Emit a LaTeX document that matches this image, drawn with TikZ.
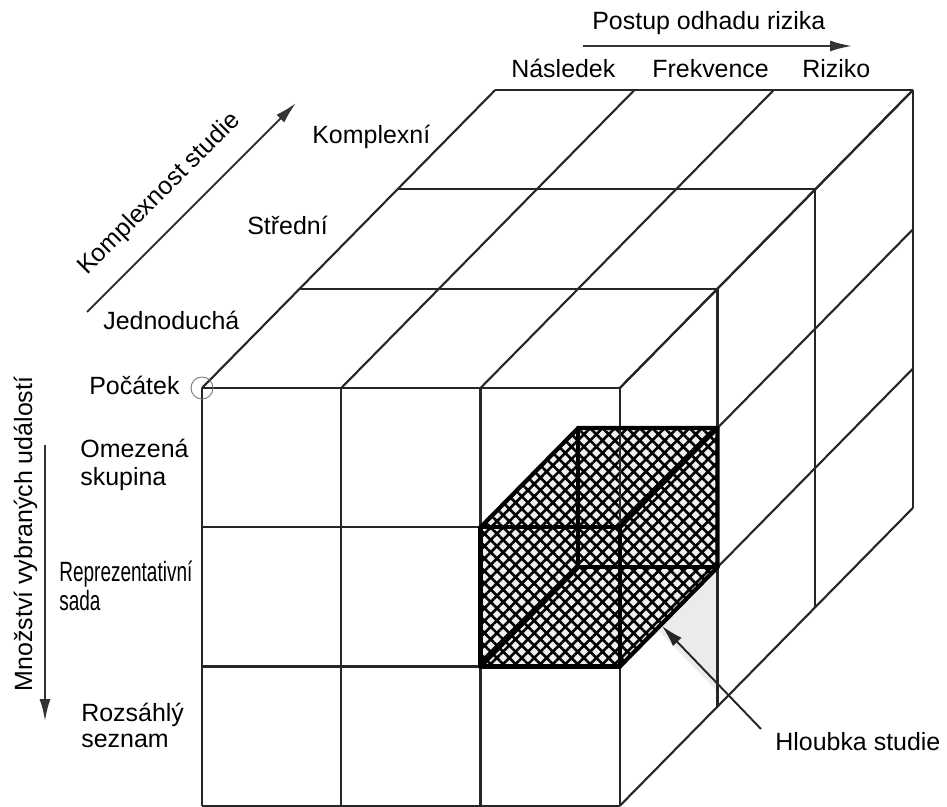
\documentclass[tikz,border=0pt]{standalone}
\usepackage{fontspec}
\setmainfont{Liberation Sans}
\newfontfamily\narrowsans[FakeStretch=0.68]{Liberation Sans}
\usetikzlibrary{arrows.meta,patterns.meta}
\begin{document}
\begin{tikzpicture}[x=0.02cm,y=-0.02cm,
  lbl/.style={font=\fontsize{14.2}{17}\selectfont, inner sep=0pt, anchor=base west},
  narrowlbl/.style={font=\narrowsans\fontsize{15.9}{17}\selectfont, inner sep=0pt, anchor=base west},
  gridline/.style={line width=1.2pt, draw=black!85},
  boldedge/.style={line width=2.4pt, draw=black, line join=round, line cap=round},
  axisarrow/.style={line width=1.2pt, draw=black!80, -{Latex[length=0.44cm,width=0.22cm]}},
  pointer/.style={line width=1.1pt, draw=black!85, -{Latex[length=0.44cm,width=0.24cm]}},
]
\useasboundingbox (0,0) rectangle (947,807);
\fill[white] (0,0) rectangle (947,807);

\coordinate (O) at (202,388);

% shadow triangle
\fill[black!8] (718,568) -- (718,692) -- (654,626) -- cycle;

\begin{scope}[shift={(O)}, x={(2.786cm,0cm)}, y={(1.954cm,1.986cm)}, z={(0cm,-2.786cm)}]
  % hatched cube faces
  \fill[black!6] (2,0,1) -- (2,1,1) -- (3,1,1) -- (3,1,2) -- (3,0,2) -- (2,0,2) -- cycle;
  \fill[pattern={Hatch[angle=45,distance=5pt,line width=1.5pt]}, pattern color=black]
    (2,0,1) -- (2,1,1) -- (3,1,1) -- (3,1,2) -- (3,0,2) -- (2,0,2) -- cycle;
  % front face grid
  \foreach \i in {0,...,3} \draw[gridline] (\i,0,0) -- (\i,0,3);
  \foreach \k in {0,...,3} \draw[gridline] (0,0,\k) -- (3,0,\k);
  % top face grid
  \foreach \i in {0,...,3} \draw[gridline] (\i,0,0) -- (\i,3,0);
  \foreach \j in {0,...,3} \draw[gridline] (0,\j,0) -- (3,\j,0);
  % right face grid
  \foreach \j in {0,...,3} \draw[gridline] (3,\j,0) -- (3,\j,3);
  \foreach \k in {0,...,3} \draw[gridline] (3,0,\k) -- (3,3,\k);
  % hatched cube edges
  \draw[boldedge] (2,0,1) -- (3,0,1) -- (3,0,2) -- (2,0,2) -- cycle;
  \draw[boldedge] (2,0,1) -- (2,1,1) -- (3,1,1) -- (3,0,1);
  \draw[boldedge] (3,1,1) -- (3,1,2) -- (3,0,2);
  \draw[boldedge] (2,1,1) -- (2,1,2) -- (3,1,2);
  \draw[boldedge] (2,1,2) -- (2,0,2);
\end{scope}

% origin marker
\draw[black!55, line width=0.5pt] (O) circle[radius=11];

% top axis
\node[lbl] (postup) at (592,30) {Postup odhadu rizika};
\coordinate (pa) at (583,46);
\coordinate (pb) at (852,46);
\draw[axisarrow] (pa) -- (pb);
\node[lbl] (nasledek) at (511,78) {Následek};
\node[lbl] (frekvence) at (652,78) {Frekvence};
\node[lbl] (riziko) at (802,78) {Riziko};

% depth axis
\coordinate (ka) at (87,312);
\coordinate (kb) at (296,103);
\draw[axisarrow] (ka) -- (kb);
\node[lbl, rotate=45, anchor=base] (komplexnost) at (164,199) {Komplexnost studie};
\node[lbl] (komplexni) at (312,144) {Komplexní};
\node[lbl] (stredni) at (247,235) {Střední};
\node[lbl] (jednoducha) at (103,330) {Jednoduchá};
\node[lbl] (pocatek) at (89,395) {Počátek};

% vertical axis
\coordinate (ma) at (45,445);
\coordinate (mb) at (45,721);
\draw[axisarrow] (ma) -- (mb);
\node[lbl, rotate=90, anchor=base] (mnozstvi) at (32,534) {Množství vybraných událostí};
\node[lbl] (omezena) at (80,458) {Omezená};
\node[lbl] (skupina) at (80,485) {skupina};
\node[narrowlbl] (reprez) at (59,582) {Reprezentativní};
\node[narrowlbl] (sada) at (59,610) {sada};
\node[lbl] (rozsahly) at (81,721) {Rozsáhlý};
\node[lbl] (seznam) at (81,747) {seznam};

% depth label
\node[lbl] (hloubka) at (775,750) {Hloubka studie};
\coordinate (ha) at (761,729);
\coordinate (hb) at (662,626);
\draw[pointer] (ha) -- (hb);
\end{tikzpicture}
\end{document}
